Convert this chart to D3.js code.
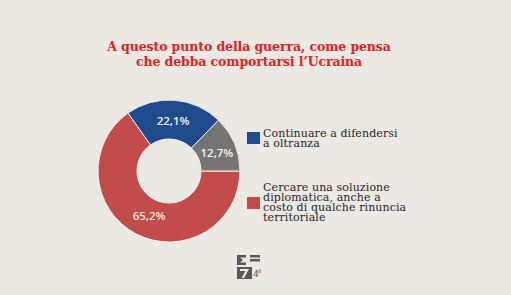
<!DOCTYPE html>
<html>
<head>
<meta charset="utf-8">
<script src="https://cdn.jsdelivr.net/npm/d3@7"></script>
<style>
  body { margin: 0; background: #ece8e3; }
  svg { display: block; }
</style>
</head>
<body>
<svg id="chart" width="511" height="295"></svg>
<script>
// dati
var categorie = ["Cercare una soluzione diplomatica, anche a costo di qualche rinuncia territoriale",
                 "Continuare a difendersi a oltranza", "Non sa"];
var valori = [65.2, 22.1, 12.7];
var etichette = ["65,2%", "22,1%", "12,7%"];
var colori = ["#c24b4b", "#1f4b8c", "#767573"];
var titolo = ["A questo punto della guerra, come pensa", "che debba comportarsi l\u2019Ucraina"];
var legendaTesti = [["Continuare a difendersi", "a oltranza"],
                    ["Cercare una soluzione", "diplomatica, anche a", "costo di qualche rinuncia", "territoriale"]];
var legendaColori = ["#1f4b8c", "#c24b4b"];

var svg = d3.select("#chart");

// titolo
svg.append("g").selectAll("text")
  .data(titolo)
  .enter().append("text")
  .attr("x", 249)
  .attr("y", function(d, i) { return 51 + i * 15; })
  .attr("text-anchor", "middle")
  .attr("font-family", "DejaVu Serif")
  .attr("font-weight", "bold")
  .attr("font-size", 12.5)
  .attr("letter-spacing", -0.1)
  .attr("fill", "#de1f26")
  .text(function(d) { return d; });

//////////////////////// CIAMBELLA ////////////////////////
var cx = 169, cy = 171, rOut = 71, rIn = 32;
var pie = d3.pie().sort(null)
  .startAngle(Math.PI / 2).endAngle(Math.PI / 2 + 2 * Math.PI);
var arc = d3.arc().innerRadius(rIn).outerRadius(rOut);
var labelArc = d3.arc().innerRadius(52).outerRadius(52);

var g = svg.append("g").attr("transform", "translate(" + cx + "," + cy + ")");
var archi = pie(valori);

g.selectAll("path")
  .data(archi)
  .enter().append("path")
  .attr("d", arc)
  .attr("fill", function(d, i) { return colori[i]; })
  .attr("stroke", "#f4f1ec")
  .attr("stroke-width", 1);

var spost = [[4, -1], [0, 2], [0, 2]];
g.selectAll("text")
  .data(archi)
  .enter().append("text")
  .attr("x", function(d, i) { return labelArc.centroid(d)[0] + spost[i][0]; })
  .attr("y", function(d, i) { return labelArc.centroid(d)[1] + spost[i][1]; })
  .attr("dy", "0.35em")
  .attr("text-anchor", "middle")
  .attr("font-family", "Open Sans")
  .attr("font-weight", 600)
  .attr("font-size", 11.5)
  .attr("fill", function(d, i) { return i == 0 ? "#f6e6d8" : "#f4f4f4"; })
  .text(function(d, i) { return etichette[i]; });

//////////////////////// LEGENDA ////////////////////////
var legQ = [132, 197];        // y dei quadratini
var legB = [137, 191];        // prima linea di base
var leg = svg.append("g");
legendaTesti.forEach(function(righe, k) {
  leg.append("rect")
    .attr("x", 247).attr("y", legQ[k])
    .attr("width", 13).attr("height", 12)
    .attr("fill", legendaColori[k]);
  leg.append("g").selectAll("text")
    .data(righe)
    .enter().append("text")
    .attr("x", 263)
    .attr("y", function(d, i) { return legB[k] + i * 10; })
    .attr("font-family", "DejaVu Serif")
    .attr("font-size", 11)
    .attr("letter-spacing", 0.1)
    .attr("fill", "#2a2626")
    .text(function(d) { return d; });
});

//////////////////////// LOGO ////////////////////////
var logo = svg.append("g").attr("transform", "translate(237,255)").attr("fill", "#5a5858");
logo.append("path").attr("d", "M0,0h9v2.5h-6l3,2.5l-3,2.5h6v2.5h-9z");
logo.append("path").attr("d", "M13,0h10v2.5h-10zM13,4h10v2.5h-10z");
logo.append("rect").attr("x", 0).attr("y", 12).attr("width", 15).attr("height", 12);
logo.append("path").attr("d", "M3,14h9l-5,9h-2.5l4,-7h-5.5z").attr("fill", "#ece8e3");
logo.append("text").attr("x", 16).attr("y", 22).attr("font-family", "DejaVu Sans")
  .attr("font-size", 9).text("4");
logo.append("text").attr("x", 21).attr("y", 18).attr("font-family", "DejaVu Sans")
  .attr("font-size", 5).text("8");
</script>
</body>
</html>
